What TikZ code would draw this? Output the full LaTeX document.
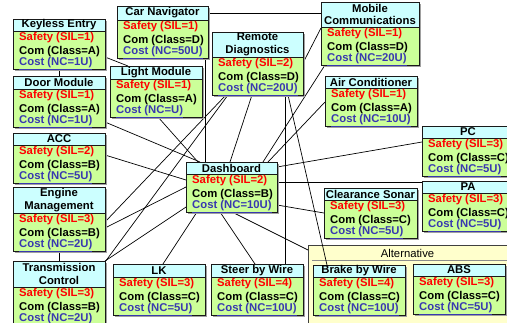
\documentclass[tikz,border=0pt]{standalone}
\usepackage{fontspec}
\setmainfont{Liberation Sans}
\pgfdeclarelayer{back}
\pgfdeclarelayer{mid}
\pgfsetlayers{back,mid,main}
\definecolor{hdr}{HTML}{CCFFFF}
\definecolor{bod}{HTML}{CCFF99}
\definecolor{costc}{HTML}{3838B0}
\definecolor{altfill}{HTML}{FFFFCC}
\definecolor{shadowc}{HTML}{A0A0A0}
\tikzset{
  boxframe/.style={draw=none, inner sep=0pt, outer sep=0pt, anchor=north west},
  bx/.style={draw=black!90, line width=0.9pt},
  ttl/.style={font=\fontsize{11.3}{12.5}\selectfont\bfseries, align=center, inner sep=0pt},
  row/.style={font=\fontsize{11.3}{13}\selectfont\bfseries, anchor=west, inner sep=0pt},
  conn/.style={draw=black, line width=0.7pt},
}
\newcommand\ecubox[9]{%
  \node[boxframe, minimum width=#4pt, minimum height={#5pt+38pt}] (#1) at (#2,#3) {};
  \fill[shadowc] ([shift={(1.6,1.6)}]#1.north west) rectangle ([shift={(1.6,1.6)}]#1.south east);
  \filldraw[bx, fill=hdr] (#1.north west) rectangle ([shift={(0,#5)}]#1.north east);
  \filldraw[bx, fill=bod] ([shift={(0,#5)}]#1.north west) rectangle (#1.south east);
  \path (#1.north) -- ([shift={(0,#5)}]#1.north) node[midway, ttl] {#6};
  \node[row, text=red] at ([shift={(6,#5+7)}]#1.north west) {Safety (SIL=#7)};
  \node[row, text=black] at ([shift={(6,#5+20.5)}]#1.north west) {Com (Class=#8)};
  \node[row, text=costc] at ([shift={(6,#5+33)}]#1.north west) {\underline{Cost (NC=#9)}};
}
\begin{document}
\begin{tikzpicture}[x=1pt, y=-1pt]
\useasboundingbox (0,0) rectangle (507,322);
\clip (0,0) rectangle (507,322);

% background and container
\begin{pgfonlayer}{back}
\fill[white] (0,0) rectangle (507,322);
\node[boxframe, minimum width=199pt, minimum height=78pt] (alt) at (308,245) {};
\filldraw[fill=altfill, draw=black!75, line width=0.7pt] (alt.north west) rectangle (alt.south east);
\draw[black!45, line width=0.5pt] ([shift={(4,15)}]alt.north west) -- ([shift={(0,15)}]alt.north east);
\node[font=\fontsize{11.3}{13}\selectfont, inner sep=0pt] (altlbl) at ([shift={(0,8)}]alt.north) {Alternative};
\end{pgfonlayer}

% boxes
\ecubox{ke}{13}{19}{92}{12}{Keyless Entry}{1}{A}{1U}
\ecubox{cn}{117}{6}{91}{14}{Car Navigator}{1}{D}{50U}
\ecubox{dm}{13}{76}{92}{13}{Door Module}{1}{A}{1U}
\ecubox{lm}{110}{66}{92}{13}{Light Module}{1}{A}{U}
\ecubox{rd}{212}{32}{91}{25}{Remote\\Diagnostics}{2}{D}{20U}
\ecubox{mc}{321}{2}{98}{25}{Mobile\\Communications}{1}{D}{20U}
\ecubox{ac}{325}{76}{92}{12}{Air Conditioner}{1}{A}{10U}
\ecubox{acc}{13}{133}{92}{12}{ACC}{2}{B}{5U}
\ecubox{em}{13}{187}{92}{26}{Engine\\Management}{3}{B}{2U}
\ecubox{dash}{186}{162}{91}{12}{Dashboard}{2}{B}{10U}
\ecubox{pc}{422}{126}{92}{12}{PC}{3}{C}{5U}
\ecubox{pa}{422}{181}{92}{12}{PA}{3}{C}{5U}
\ecubox{cs}{324}{188}{93}{12}{Clearance Sonar}{3}{C}{5U}
\ecubox{tc}{13}{261}{92}{26}{Transmission\\Control}{3}{B}{2U}
\ecubox{lk}{113}{264}{92}{13}{LK}{3}{C}{5U}
\ecubox{sbw}{211}{264}{92}{13}{Steer by Wire}{4}{C}{10U}
\ecubox{bbw}{313}{265}{92}{12}{Brake by Wire}{4}{C}{10U}
\ecubox{abs}{413}{264}{92}{12}{ABS}{3}{C}{5U}

% connectors
\begin{pgfonlayer}{mid}
\draw[conn] (ke.south) -- (dm.north);
\draw[conn] ([shift={(0,-12)}]ke.south east) -- ([shift={(18,0)}]lm.north west);
\draw[conn] ([shift={(0,7)}]cn.north east) -- ([shift={(0,11)}]mc.north west);
\draw[conn] ([shift={(-3,0)}]cn.south east) -- ([shift={(19,0)}]dash.north west);
\draw[conn] ([shift={(0,-5)}]dm.south east) -- ([shift={(14,0)}]dash.north west);
\draw[conn] ([shift={(48,0)}]lm.south west) -- ([shift={(12,0)}]dash.north west);
\draw[conn] ([shift={(0,22)}]acc.north east) -- ([shift={(0,18)}]dash.north west);
\draw[conn] ([shift={(0,41)}]em.north east) -- ([shift={(0,25)}]dash.north west);
\draw[conn] ([shift={(0,35)}]em.north east) -- ([shift={(14,0)}]rd.south west);
\draw[conn] (tc.north east) -- ([shift={(0,-5)}]dash.south west);
\draw[conn] ([shift={(0,1)}]tc.north east) -- ([shift={(16,0)}]rd.south west);
\draw[conn] (em.south) -- (tc.north);
\draw[conn] ([shift={(40,0)}]rd.south west) -- ([shift={(44,0)}]dash.north west);
\draw[conn] ([shift={(73,0)}]rd.south west) -- ([shift={(74,0)}]sbw.north west);
\draw[conn] ([shift={(76,0)}]rd.south west) -- ([shift={(14,0)}]bbw.north west);
\draw[conn] ([shift={(0,31)}]rd.north east) -- ([shift={(0,26)}]mc.north west);
\draw[conn] ([shift={(4,0)}]mc.south west) -- ([shift={(-14,0)}]dash.north east);
\draw[conn] ([shift={(0,26)}]ac.north west) -- ([shift={(-9,0)}]dash.north east);
\draw[conn] ([shift={(0,5)}]dash.north east) -- ([shift={(0,16)}]pc.north west);
\draw[conn] ([shift={(0,20)}]dash.north east) -- ([shift={(0,1)}]pa.north west);
\draw[conn] ([shift={(0,-7)}]dash.south east) -- ([shift={(0,25)}]cs.north west);
\draw[conn] ([shift={(46,0)}]dash.south west) -- ([shift={(0,5)}]alt.north west);
\draw[conn] ([shift={(34,0)}]dash.south west) -- ([shift={(44,0)}]sbw.north west);
\draw[conn] ([shift={(11,0)}]dash.south west) -- ([shift={(50,0)}]lk.north west);
\end{pgfonlayer}
\end{tikzpicture}
\end{document}
